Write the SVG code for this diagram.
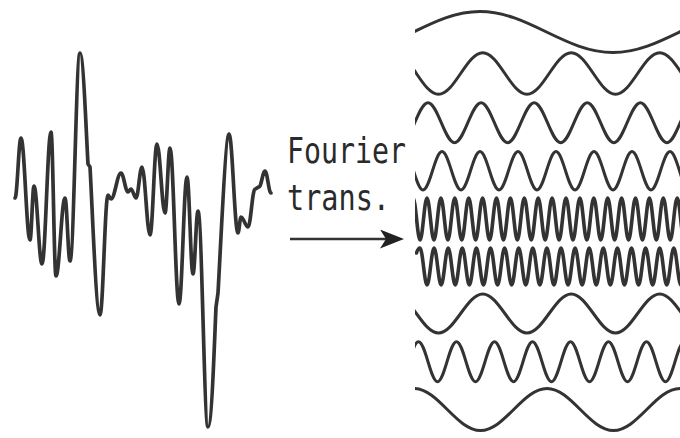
<svg xmlns="http://www.w3.org/2000/svg" width="680" height="438" viewBox="0 0 680 438">
<style>
.sig{fill:none;stroke:#333;stroke-width:3.7;stroke-linecap:round;stroke-linejoin:round}
.w{fill:none;stroke:#333;stroke-width:3;stroke-linecap:round;stroke-linejoin:round}
.hf{fill:none;stroke:#333;stroke-width:3.6;stroke-linecap:round;stroke-linejoin:round}
.lbl{font-family:"DejaVu Sans Mono","Liberation Mono",monospace;font-size:35px;fill:#2a2a2a}
.conn{stroke:#333;stroke-width:2.5;fill:none}
</style>
<defs>
<clipPath id="waveclip"><rect x="415" y="0" width="265" height="438"/></clipPath>
<marker id="arrow" markerUnits="userSpaceOnUse" markerWidth="26" markerHeight="20" refX="18" refY="9.5" orient="auto">
<path d="M0,0 L24,9.5 L0,19 L6,9.5 z" fill="#222"/>
</marker>
</defs>
<rect width="680" height="438" fill="#fff"/>
<g id="signal">
<path class="sig" d="M15,198 C17.3,198 18.7,138 21,138 C24.4,138 26.6,240 30,240 C31.5,240 32.5,186 34,186 C37,186 39,264 42,264 C45.4,264 47.6,132 51,132 C52.9,132 54.1,276 56,276 C59.4,276 61.6,198 65,198 C66.9,198 68.1,261 70,261 C73.8,261 76.2,53 80,53 C83.4,53 86.5,140 88,164 L90,167 C92,200 96,315 100,315 C103,315 105,195 108,195 C109.1,195 109.9,199 111,199 C114.8,199 117.2,173 121,173 C123.7,173 125.3,192 128,192 C129.1,192 129.9,189 131,189 C132.9,189 134.1,198 136,198 C138.3,198 139.7,167 142,167 C145,167 147,235 150,235 C152.7,235 154.3,144 157,144 C160,144 162,213 165,213 C166.9,213 168.1,148 170,148 C173.4,148 175.6,304 179,304 C182,304 184,177 187,177 C189.3,177 190.7,274 193,274 C194.9,274 196.1,211 198,211 C201.8,211 204.2,427 208,427 C211.8,427 214.5,340 216,307 L218,293 C220,260 225.5,134 229,134 C232.4,134 234.6,233 238,233 C239.1,233 239.9,217 241,217 C243.7,217 245.3,227 248,227 C250.7,227 252.3,189 255,189 C256.5,189 257.5,187 259,187 C261.3,187 262.7,171 265,171 C267.3,171 268.7,193 271,193"/>
</g>
<g id="label">
<text class="lbl" x="287" y="163" textLength="119" lengthAdjust="spacingAndGlyphs">Fourier</text>
<text class="lbl" x="287" y="210" textLength="103" lengthAdjust="spacingAndGlyphs">trans.</text>
</g>
<g id="connectors">
<line class="conn" x1="290" y1="239" x2="398" y2="239" marker-end="url(#arrow)"/>
</g>
<g id="spectrum" clip-path="url(#waveclip)">
<path id="wave1" class="w" d="M347,52.5 c48.33,0 84.67,-41 133,-41 c48.33,0 84.67,41 133,41 c48.33,0 84.67,-41 133,-41"/>
<path id="wave2" class="w" d="M394.25,52.7 c16.08,0 28.17,41.6 44.25,41.6 c16.08,0 28.17,-41.6 44.25,-41.6 c16.08,0 28.17,41.6 44.25,41.6 c16.08,0 28.17,-41.6 44.25,-41.6 c16.08,0 28.17,41.6 44.25,41.6 c16.08,0 28.17,-41.6 44.25,-41.6 c16.08,0 28.17,41.6 44.25,41.6 c16.08,0 28.17,-41.6 44.25,-41.6"/>
<path id="wave3" class="w" d="M401.45,142.7 c9.65,0 16.9,-40 26.55,-40 c9.65,0 16.9,40 26.55,40 c9.65,0 16.9,-40 26.55,-40 c9.65,0 16.9,40 26.55,40 c9.65,0 16.9,-40 26.55,-40 c9.65,0 16.9,40 26.55,40 c9.65,0 16.9,-40 26.55,-40 c9.65,0 16.9,40 26.55,40 c9.65,0 16.9,-40 26.55,-40 c9.65,0 16.9,40 26.55,40 c9.65,0 16.9,-40 26.55,-40 c9.65,0 16.9,40 26.55,40"/>
<path id="wave4" class="w" d="M404,151.6 c6.9,0 12.1,38.4 19,38.4 c6.9,0 12.1,-38.4 19,-38.4 c6.9,0 12.1,38.4 19,38.4 c6.9,0 12.1,-38.4 19,-38.4 c6.9,0 12.1,38.4 19,38.4 c6.9,0 12.1,-38.4 19,-38.4 c6.9,0 12.1,38.4 19,38.4 c6.9,0 12.1,-38.4 19,-38.4 c6.9,0 12.1,38.4 19,38.4 c6.9,0 12.1,-38.4 19,-38.4 c6.9,0 12.1,38.4 19,38.4 c6.9,0 12.1,-38.4 19,-38.4 c6.9,0 12.1,38.4 19,38.4 c6.9,0 12.1,-38.4 19,-38.4 c6.9,0 12.1,38.4 19,38.4 c6.9,0 12.1,-38.4 19,-38.4"/>
<path id="wave5" class="hf" d="M413.1,198 c2.53,0 4.42,42 6.95,42 c2.53,0 4.42,-42 6.95,-42 c2.53,0 4.42,42 6.95,42 c2.53,0 4.42,-42 6.95,-42 c2.53,0 4.42,42 6.95,42 c2.53,0 4.42,-42 6.95,-42 c2.53,0 4.42,42 6.95,42 c2.53,0 4.42,-42 6.95,-42 c2.53,0 4.42,42 6.95,42 c2.53,0 4.42,-42 6.95,-42 c2.53,0 4.42,42 6.95,42 c2.53,0 4.42,-42 6.95,-42 c2.53,0 4.42,42 6.95,42 c2.53,0 4.42,-42 6.95,-42 c2.53,0 4.42,42 6.95,42 c2.53,0 4.42,-42 6.95,-42 c2.53,0 4.42,42 6.95,42 c2.53,0 4.42,-42 6.95,-42 c2.53,0 4.42,42 6.95,42 c2.53,0 4.42,-42 6.95,-42 c2.53,0 4.42,42 6.95,42 c2.53,0 4.42,-42 6.95,-42 c2.53,0 4.42,42 6.95,42 c2.53,0 4.42,-42 6.95,-42 c2.53,0 4.42,42 6.95,42 c2.53,0 4.42,-42 6.95,-42 c2.53,0 4.42,42 6.95,42 c2.53,0 4.42,-42 6.95,-42 c2.53,0 4.42,42 6.95,42 c2.53,0 4.42,-42 6.95,-42 c2.53,0 4.42,42 6.95,42 c2.53,0 4.42,-42 6.95,-42 c2.53,0 4.42,42 6.95,42 c2.53,0 4.42,-42 6.95,-42 c2.53,0 4.42,42 6.95,42 c2.53,0 4.42,-42 6.95,-42 c2.53,0 4.42,42 6.95,42 c2.53,0 4.42,-42 6.95,-42 c2.53,0 4.42,42 6.95,42 c2.53,0 4.42,-42 6.95,-42"/>
<path id="wave6" class="hf" d="M416.5,253 C417.6,249.5 418.6,248 420,248 c2.56,0 4.49,37 7.05,37 c2.56,0 4.49,-37 7.05,-37 c2.56,0 4.49,37 7.05,37 c2.56,0 4.49,-37 7.05,-37 c2.56,0 4.49,37 7.05,37 c2.56,0 4.49,-37 7.05,-37 c2.56,0 4.49,37 7.05,37 c2.56,0 4.49,-37 7.05,-37 c2.56,0 4.49,37 7.05,37 c2.56,0 4.49,-37 7.05,-37 c2.56,0 4.49,37 7.05,37 c2.56,0 4.49,-37 7.05,-37 c2.56,0 4.49,37 7.05,37 c2.56,0 4.49,-37 7.05,-37 c2.56,0 4.49,37 7.05,37 c2.56,0 4.49,-37 7.05,-37 c2.56,0 4.49,37 7.05,37 c2.56,0 4.49,-37 7.05,-37 c2.56,0 4.49,37 7.05,37 c2.56,0 4.49,-37 7.05,-37 c2.56,0 4.49,37 7.05,37 c2.56,0 4.49,-37 7.05,-37 c2.56,0 4.49,37 7.05,37 c2.56,0 4.49,-37 7.05,-37 c2.56,0 4.49,37 7.05,37 c2.56,0 4.49,-37 7.05,-37 c2.56,0 4.49,37 7.05,37 c2.56,0 4.49,-37 7.05,-37 c2.56,0 4.49,37 7.05,37 c2.56,0 4.49,-37 7.05,-37 c2.56,0 4.49,37 7.05,37 c2.56,0 4.49,-37 7.05,-37 c2.56,0 4.49,37 7.05,37 c2.56,0 4.49,-37 7.05,-37 c2.56,0 4.49,37 7.05,37 c2.56,0 4.49,-37 7.05,-37 c2.56,0 4.49,37 7.05,37 c2.56,0 4.49,-37 7.05,-37"/>
<path id="wave7" class="w" d="M394.25,294 c16.08,0 28.17,39 44.25,39 c16.08,0 28.17,-39 44.25,-39 c16.08,0 28.17,39 44.25,39 c16.08,0 28.17,-39 44.25,-39 c16.08,0 28.17,39 44.25,39 c16.08,0 28.17,-39 44.25,-39 c16.08,0 28.17,39 44.25,39 c16.08,0 28.17,-39 44.25,-39"/>
<path id="wave8" class="w" d="M399.5,381.7 c6.9,0 12.1,-40 19,-40 c6.9,0 12.1,40 19,40 c6.9,0 12.1,-40 19,-40 c6.9,0 12.1,40 19,40 c6.9,0 12.1,-40 19,-40 c6.9,0 12.1,40 19,40 c6.9,0 12.1,-40 19,-40 c6.9,0 12.1,40 19,40 c6.9,0 12.1,-40 19,-40 c6.9,0 12.1,40 19,40 c6.9,0 12.1,-40 19,-40 c6.9,0 12.1,40 19,40 c6.9,0 12.1,-40 19,-40 c6.9,0 12.1,40 19,40 c6.9,0 12.1,-40 19,-40 c6.9,0 12.1,40 19,40"/>
<path id="wave9" class="w" d="M347.5,430.5 c24.17,0 42.33,-42 66.5,-42 c24.17,0 42.33,42 66.5,42 c24.17,0 42.33,-42 66.5,-42 c24.17,0 42.33,42 66.5,42 c24.17,0 42.33,-42 66.5,-42 c24.17,0 42.33,42 66.5,42"/>
</g>
</svg>
